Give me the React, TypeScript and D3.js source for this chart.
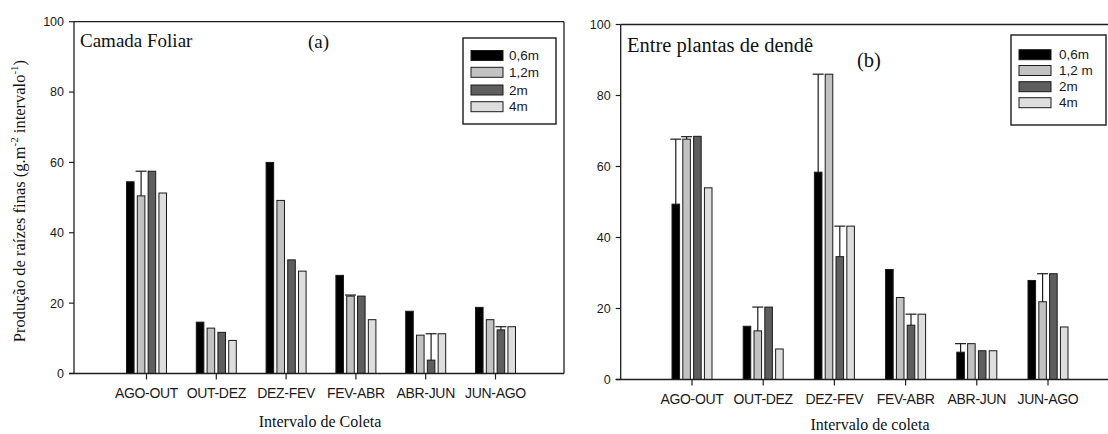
import React from "react";
import * as d3 from "d3";

const categories = ["AGO-OUT", "OUT-DEZ", "DEZ-FEV", "FEV-ABR", "ABR-JUN", "JUN-AGO"];
const seriesA = ["0,6m", "1,2m", "2m", "4m"];
const seriesB = ["0,6m", "1,2 m", "2m", "4m"];
const yTicks = [0, 20, 40, 60, 80, 100];

// Panel (a) Camada Foliar
const a06 = [54.5, 14.6, 60.0, 27.9, 17.7, 18.8];
const a12 = [50.5, 12.9, 49.2, 22.0, 10.9, 15.3];
const a2 = [57.5, 11.7, 32.3, 22.0, 3.8, 12.4];
const a4 = [51.3, 9.4, 29.1, 15.3, 11.3, 13.3];
// upper whisker values (null = no error bar)
const a06Err = [null, null, null, null, null, null];
const a12Err = [57.5, null, null, 22.3, null, null];
const a2Err = [null, null, null, null, 11.3, 13.3];
const a4Err = [null, null, null, null, null, null];

// Panel (b) Entre plantas de dendê
const b06 = [49.4, 15.0, 58.4, 31.0, 7.7, 27.9];
const b12 = [67.7, 13.7, 86.0, 23.1, 10.1, 21.9];
const b2 = [68.5, 20.4, 34.6, 15.3, 8.1, 29.8];
const b4 = [54.0, 8.6, 43.2, 18.4, 8.1, 14.8];
const b06Err = [67.7, null, 86.0, null, 10.1, null];
const b12Err = [68.4, 20.4, null, null, null, 29.8];
const b2Err = [null, null, 43.2, 18.4, null, null];
const b4Err = [null, null, null, null, null, null];

const fills = ["#000000", "#c2c2c2", "#5e5e5e", "#dedede"];

type Panel = {
  key: string;
  values: number[][];
  errs: (number | null)[][];
  labels: string[];
  axisLeft: number;
  axisRight: number;
  frameRight: boolean;
  y0: number;
  y100: number;
  catRange: [number, number];
  groupHalf: number;
  title: string;
  titleX: number;
  titleY: number;
  titleSize: number;
  tag: string;
  tagX: number;
  tagY: number;
  tagSize: number;
  xLabel: string;
  xLabelX: number;
  xLabelY: number;
  xTickY: number;
  legend: { x: number; y: number; w: number; h: number; swX: number; rows: number[]; textX: number };
};

const panels: Panel[] = [
  {
    key: "a",
    values: [a06, a12, a2, a4],
    errs: [a06Err, a12Err, a2Err, a4Err],
    labels: seriesA,
    axisLeft: 74,
    axisRight: 564,
    frameRight: true,
    y0: 373.5,
    y100: 21.7,
    catRange: [146.5, 495.5],
    groupHalf: 20,
    title: "Camada Foliar",
    titleX: 80,
    titleY: 47,
    titleSize: 19,
    tag: "(a)",
    tagX: 308,
    tagY: 48,
    tagSize: 19,
    xLabel: "Intervalo de Coleta",
    xLabelX: 320,
    xLabelY: 427,
    xTickY: 398,
    legend: { x: 463, y: 38, w: 93, h: 86, swX: 471, rows: [55.5, 72.3, 90, 106.7], textX: 509 },
  },
  {
    key: "b",
    values: [b06, b12, b2, b4],
    errs: [b06Err, b12Err, b2Err, b4Err],
    labels: seriesB,
    axisLeft: 620.7,
    axisRight: 1110,
    frameRight: false,
    y0: 379.5,
    y100: 24.5,
    catRange: [692, 1048],
    groupHalf: 20,
    title: "Entre plantas de dendê",
    titleX: 627,
    titleY: 51.5,
    titleSize: 20.5,
    tag: "(b)",
    tagX: 857,
    tagY: 67,
    tagSize: 20.5,
    xLabel: "Intervalo de coleta",
    xLabelX: 870,
    xLabelY: 429.5,
    xTickY: 404,
    legend: { x: 1011, y: 35, w: 95, h: 90, swX: 1019, rows: [54.7, 70.5, 86.7, 102.7], textX: 1059 },
  },
];

const SANS = "'Liberation Sans', Arial, sans-serif";
const SERIF = "'Liberation Serif', 'Times New Roman', serif";

function PanelView({ p }: { p: Panel }) {
  const y = d3.scaleLinear().domain([0, 100]).range([p.y0, p.y100]);
  const x0 = d3.scalePoint<string>().domain(categories).range(p.catRange);
  const x1 = d3
    .scaleBand<number>()
    .domain([0, 1, 2, 3])
    .range([-p.groupHalf, p.groupHalf])
    .paddingInner(0.3);
  const bw = x1.bandwidth();
  const axisColor = "#1e1e1e";
  return (
    <g>
      {/* frame */}
      <line x1={p.axisLeft} x2={p.axisRight} y1={p.y100} y2={p.y100} stroke={axisColor} strokeWidth={1.3} />
      {p.frameRight && (
        <line x1={p.axisRight} x2={p.axisRight} y1={p.y100} y2={p.y0} stroke={axisColor} strokeWidth={1.3} />
      )}
      {/* bars */}
      {categories.map((c, ci) => (
        <g key={c}>
          {p.values.map((vals, si) => {
            const bx = (x0(c) as number) + (x1(si) as number);
            const v = vals[ci];
            return (
              <rect
                key={si}
                x={bx}
                y={y(v)}
                width={bw}
                height={y(0) - y(v)}
                fill={fills[si]}
                stroke="#1a1a1a"
                strokeWidth={1}
              />
            );
          })}
          {p.errs.map((errs, si) => {
            const e = errs[ci];
            if (e == null) return null;
            const cx = (x0(c) as number) + (x1(si) as number) + bw / 2;
            const v = p.values[si][ci];
            return (
              <g key={"e" + si} stroke="#1a1a1a" strokeWidth={1.2}>
                <line x1={cx} x2={cx} y1={y(v)} y2={y(e)} />
                <line x1={cx - 5.5} x2={cx + 5.5} y1={y(e)} y2={y(e)} />
              </g>
            );
          })}
        </g>
      ))}
      {/* axes */}
      <line x1={p.axisLeft} x2={p.axisLeft} y1={p.y100} y2={p.y0} stroke={axisColor} strokeWidth={1.3} />
      <line x1={p.axisLeft - 5} x2={p.axisRight} y1={p.y0} y2={p.y0} stroke={axisColor} strokeWidth={1.3} />
      {yTicks.map((t) => (
        <g key={t}>
          <line x1={p.axisLeft - 5} x2={p.axisLeft} y1={y(t)} y2={y(t)} stroke={axisColor} strokeWidth={1.2} />
          <text
            x={p.axisLeft - 10}
            y={y(t)}
            dy="0.35em"
            textAnchor="end"
            fontFamily={SANS}
            fontSize={12.5}
            fill="#1a1a1a"
          >
            {t}
          </text>
        </g>
      ))}
      {categories.map((c) => (
        <g key={"t" + c}>
          <line
            x1={x0(c) as number}
            x2={x0(c) as number}
            y1={p.y0}
            y2={p.y0 + 6}
            stroke={axisColor}
            strokeWidth={1.2}
          />
          <text
            x={x0(c) as number}
            y={p.xTickY}
            textAnchor="middle"
            fontFamily={SANS}
            fontSize={14}
            fill="#1a1a1a"
            letterSpacing={-0.3}
          >
            {c}
          </text>
        </g>
      ))}
      {/* titles */}
      <text x={p.titleX} y={p.titleY} fontFamily={SERIF} fontSize={p.titleSize} fill="#111">
        {p.title}
      </text>
      <text x={p.tagX} y={p.tagY} fontFamily={SERIF} fontSize={p.tagSize} fill="#111">
        {p.tag}
      </text>
      <text
        x={p.xLabelX}
        y={p.xLabelY}
        textAnchor="middle"
        fontFamily={SERIF}
        fontSize={16}
        fill="#111"
      >
        {p.xLabel}
      </text>
      {/* legend */}
      <rect
        x={p.legend.x}
        y={p.legend.y}
        width={p.legend.w}
        height={p.legend.h}
        fill="white"
        stroke="#1a1a1a"
        strokeWidth={1.4}
      />
      {p.labels.map((l, i) => (
        <g key={"l" + i}>
          <rect
            x={p.legend.swX}
            y={p.legend.rows[i] - 5}
            width={32}
            height={10}
            fill={fills[i]}
            stroke="#1a1a1a"
            strokeWidth={1}
          />
          <text
            x={p.legend.textX}
            y={p.legend.rows[i]}
            dy="0.35em"
            fontFamily={SANS}
            fontSize={13.5}
            fill="#1a1a1a"
          >
            {l}
          </text>
        </g>
      ))}
    </g>
  );
}

export default function App() {
  return (
    <svg
      width={1108}
      height={434}
      style={{ position: "absolute", left: 0, top: 0, background: "white" }}
    >
      <rect x={0} y={0} width={1108} height={434} fill="white" />
      {panels.map((p) => (
        <PanelView key={p.key} p={p} />
      ))}
      <text
        transform="translate(25,201) rotate(-90)"
        textAnchor="middle"
        fontFamily={SERIF}
        fontSize={16.5}
        fill="#111"
      >
        Produção de raízes finas (g.m
        <tspan dy={-7} fontSize={11}>-2</tspan>
        <tspan dy={7}> intervalo</tspan>
        <tspan dy={-7} fontSize={11}>-1</tspan>
        <tspan dy={7}>)</tspan>
      </text>
    </svg>
  );
}
